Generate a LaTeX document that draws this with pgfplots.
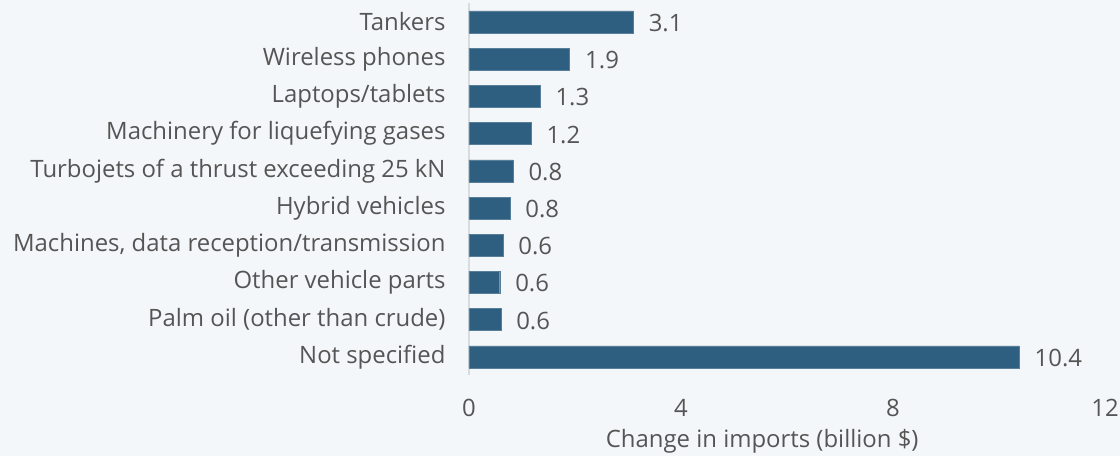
\documentclass[border=0pt]{standalone}
\usepackage{pgfplots}
\pgfplotsset{compat=1.18}
\usepackage{fontspec}
\setmainfont{Open Sans}
\definecolor{bg}{HTML}{F4F7F9}
\definecolor{bar}{HTML}{2E5F80}
\definecolor{txt}{HTML}{555555}
\definecolor{axl}{HTML}{D8DCDF}
\begin{document}
\begin{tikzpicture}
\fill[bg] (-469bp,-80.6bp) rectangle (651bp,375.4bp);
\path[use as bounding box] (-469bp,-80.6bp) rectangle (651bp,375.4bp);
\begin{axis}[
  scale only axis, width=636bp, height=372bp,
  xmin=0, xmax=12, ymin=-0.5, ymax=9.5, y dir=reverse,
  xbar, bar width=22bp,
  axis lines=left,
  x axis line style={draw=none},
  y axis line style={draw=axl, line width=1.2pt, -},
  major tick length=0pt,
  xtick={0,4,8,12},
  ytick={0,...,9},
  yticklabels={Tankers,Wireless phones,Laptops/tablets,Machinery for liquefying gases,Turbojets of a thrust exceeding 25 kN,Hybrid vehicles,{Machines, data reception/transmission},Other vehicle parts,Palm oil (other than crude),Not specified},
  ticklabel style={font=\fontsize{24}{28}\selectfont, text=txt},
  /pgf/number format/assume math mode=true,
  yticklabel style={xshift=-20bp},
  xticklabel style={yshift=-20bp},
  clip=false,
  nodes near coords,
  nodes near coords style={font=\fontsize{24}{28}\selectfont, text=txt, anchor=west, xshift=12bp, yshift=-1bp, /pgf/number format/fixed, /pgf/number format/precision=1, /pgf/number format/fixed zerofill, /pgf/number format/assume math mode=true},
]
\addplot[fill=bar, draw=bar!80!white, line width=0.4pt] coordinates {
(3.1,0) (1.9,1) (1.34,2) (1.17,3) (0.83,4) (0.77,5) (0.64,6) (0.58,7) (0.6,8) (10.38,9)};
\node[font=\fontsize{24}{28}\selectfont, text=txt] at (axis description cs:0.461,0) [yshift=-66bp] {Change in imports (billion \$)};
\end{axis}
\end{tikzpicture}
\end{document}
